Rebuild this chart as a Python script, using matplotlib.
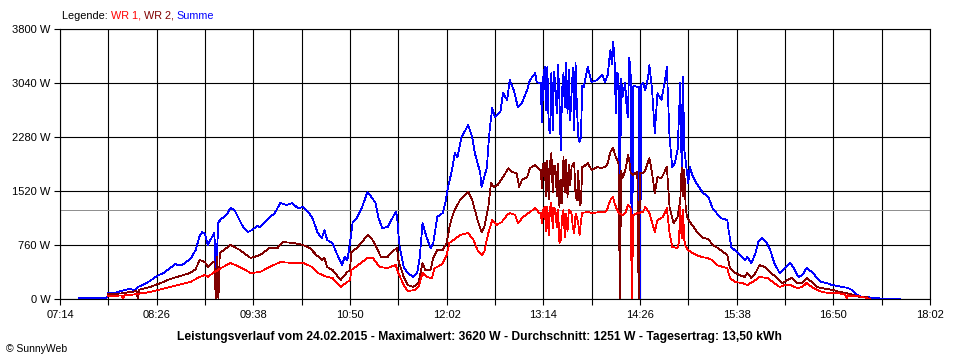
import numpy as np
import matplotlib.pyplot as plt
from matplotlib.offsetbox import TextArea, HPacker, AnnotationBbox

plt.rcParams['font.family'] = ['Liberation Sans', 'DejaVu Sans']

# per-minute log blocks shared by all three series
block_a = ["13:12", "13:13", "13:14", "13:15", "13:16", "13:17", "13:18", "13:19", "13:20", "13:21",
           "13:22", "13:23", "13:24", "13:25", "13:26", "13:27", "13:28", "13:29", "13:30", "13:31",
           "13:32", "13:33", "13:34", "13:35", "13:36", "13:37", "13:38", "13:39", "13:40", "13:41",
           "13:42", "13:43", "13:44"]
block_b = ["14:00", "14:01", "14:02", "14:03", "14:04", "14:05", "14:06", "14:07", "14:08", "14:09",
           "14:10", "14:11", "14:12", "14:13", "14:14", "14:15", "14:16", "14:17", "14:18", "14:19",
           "14:20", "14:21", "14:22", "14:23", "14:24", "14:25", "14:26", "14:27", "14:28", "14:29",
           "14:30"]

# Summe
summe_t1 = ["07:28", "07:36", "07:44", "07:49", "07:50", "07:55", "07:57", "08:02", "08:06", "08:10",
            "08:12", "08:17", "08:21", "08:26", "08:31", "08:36", "08:40", "08:42", "08:45", "08:49",
            "08:52", "08:55", "08:58", "09:00", "09:02", "09:04", "09:06", "09:09", "09:10", "09:11",
            "09:12", "09:15", "09:18", "09:21", "09:24", "09:27", "09:30", "09:34", "09:37", "09:41",
            "09:43", "09:48", "09:54", "09:58", "10:03", "10:07", "10:11", "10:15", "10:19", "10:22",
            "10:26", "10:29", "10:31", "10:33", "10:37", "10:40", "10:44", "10:46", "10:48", "10:49",
            "10:51", "10:52", "10:55", "10:59", "11:03", "11:05", "11:09", "11:11", "11:14", "11:18",
            "11:20", "11:24", "11:25", "11:26", "11:27", "11:30", "11:33", "11:35", "11:37", "11:40",
            "11:42", "11:44", "11:47", "11:50", "11:52", "11:55", "11:59", "12:01", "12:03", "12:06",
            "12:08", "12:10", "12:13", "12:16", "12:18", "12:21", "12:23", "12:25", "12:27", "12:28",
            "12:30", "12:32", "12:33", "12:34", "12:36", "12:38", "12:42", "12:44", "12:47", "12:49",
            "12:52", "12:55", "12:58", "13:02", "13:04", "13:08", "13:09", "13:11"]
summe_v1 = [10, 10, 15, 20, 85, 85, 98, 126, 140, 126,
            169, 211, 253, 323, 366, 436, 492, 478, 478, 535,
            591, 689, 886, 942, 914, 760, 830, 928, 408, 689,
            1083, 1140, 1182, 1280, 1252, 1140, 1027, 942, 971, 1027,
            1013, 1112, 1210, 1351, 1323, 1351, 1280, 1294, 1224, 1140,
            928, 858, 971, 830, 788, 647, 478, 591, 549, 661,
            928, 1083, 1140, 1294, 1505, 1463, 1351, 1154, 999, 1013,
            1083, 1224, 1182, 928, 732, 450, 366, 338, 310, 366,
            591, 1069, 872, 717, 788, 1154, 1210, 1351, 1576, 1815,
            2054, 1998, 2279, 2378, 2448, 2279, 2054, 1914, 1773, 1576,
            1716, 1857, 2139, 2378, 2687, 2561, 2631, 2898, 2800, 3081,
            2941, 2701, 2758, 2941, 3081, 3180, 3053, 3039]
summe_va = [3039, 2490, 3123, 3264, 2659, 3264, 2406, 2335, 3180, 2380,
            3200, 3000, 2617, 3300, 2800, 2096, 2941, 3180, 2700, 3320,
            2617, 3222, 2518, 2898, 3250, 2378, 3320, 2700, 2300, 2209,
            2279, 3000, 2983]
summe_t2 = ["13:47", "13:50", "13:54", "13:58"]
summe_v2 = [3264, 3053, 3081, 3152]
summe_vb = [3053, 3109, 3150, 3350, 3503, 3300, 3620, 3400, 2617, 3180,
            3150, 1250, 3100, 2842, 2950, 3039, 2700, 2561, 3391, 3200,
            0, 2983, 3000, 2990, 2983, 2990, 0, 3020, 3039, 3000,
            2941]
summe_t3 = ["14:32", "14:33", "14:35", "14:37", "14:39", "14:42", "14:45", "14:46", "14:48", "14:50",
            "14:52", "14:54", "14:55", "14:56", "14:57", "14:58", "14:59", "15:02", "15:03", "15:05",
            "15:08", "15:13", "15:17", "15:20", "15:26", "15:31", "15:32", "15:34", "15:38", "15:42",
            "15:44", "15:46", "15:49", "15:52", "15:54", "15:57", "16:00", "16:03", "16:06", "16:10",
            "16:14", "16:18", "16:20", "16:24", "16:27", "16:30", "16:34", "16:38", "16:41", "16:45",
            "16:49", "16:53", "16:57", "17:01", "17:04", "17:08", "17:11", "17:15", "17:20", "17:27",
            "17:34", "17:40"]
summe_v3 = [3123, 3292, 2941, 2335, 2898, 2800, 3123, 3264, 2279, 1857,
            1914, 2100, 2561, 3039, 1857, 3123, 2096, 1632, 1857, 1745,
            1632, 1491, 1435, 1280, 1140, 1112, 971, 732, 661, 591,
            549, 591, 507, 647, 802, 858, 802, 689, 507, 366,
            436, 507, 450, 310, 338, 436, 380, 295, 239, 225,
            197, 183, 169, 155, 126, 56, 28, 28, 14, 5,
            5, 0]

# WR 2
wr2_t1 = ["07:50", "07:55", "08:00", "08:06", "08:11", "08:12", "08:13", "08:21", "08:29", "08:36",
          "08:43", "08:51", "08:55", "08:58", "09:02", "09:04", "09:06", "09:08", "09:09", "09:10",
          "09:11", "09:12", "09:13", "09:14", "09:21", "09:28", "09:36", "09:43", "09:50", "09:56",
          "10:00", "10:08", "10:15", "10:20", "10:25", "10:29", "10:31", "10:33", "10:37", "10:43",
          "10:48", "10:50", "10:51", "10:55", "10:59", "11:03", "11:06", "11:10", "11:13", "11:18",
          "11:21", "11:25", "11:26", "11:30", "11:33", "11:37", "11:41", "11:44", "11:46", "11:50",
          "11:52", "11:55", "11:59", "12:02", "12:04", "12:06", "12:08", "12:12", "12:14", "12:18",
          "12:21", "12:23", "12:25", "12:28", "12:30", "12:33", "12:35", "12:37", "12:40", "12:44",
          "12:48", "12:51", "12:54", "12:56", "12:58", "13:02", "13:04", "13:08", "13:10"]
wr2_v1 = [70, 70, 80, 98, 110, 0, 130, 169, 225, 281,
          320, 366, 420, 549, 520, 450, 480, 520, 520, 0,
          600, 0, 640, 661, 760, 689, 577, 619, 717, 717,
          802, 788, 760, 717, 619, 549, 577, 450, 408, 267,
          380, 408, 661, 717, 802, 900, 858, 717, 591, 591,
          661, 717, 549, 310, 197, 169, 225, 507, 408, 408,
          577, 689, 689, 788, 999, 1154, 1252, 1393, 1435, 1505,
          1393, 1252, 1112, 942, 1013, 1294, 1632, 1576, 1604, 1716,
          1843, 1787, 1773, 1576, 1674, 1716, 1843, 1885, 1843]
wr2_va = [1815, 1562, 1900, 1914, 1450, 1950, 1400, 1914, 2054, 1500,
          1880, 1857, 1450, 1900, 1294, 1674, 1350, 1998, 1500, 1956,
          1435, 1885, 1600, 1857, 1900, 1914, 1450, 1393, 1800, 1320,
          1351, 1857, 1860]
wr2_t2 = ["13:47", "13:50", "13:54", "13:57"]
wr2_v2 = [1914, 1815, 1857, 1843]
wr2_vb = [1860, 1880, 1914, 2000, 2068, 2100, 2124, 2050, 1998, 1956,
          1900, 0, 1800, 1702, 1750, 1815, 1900, 2026, 1950, 1773,
          1760, 1745, 1760, 1780, 1787, 0, 1780, 1775, 1773, 1790,
          1815]
wr2_t3 = ["14:33", "14:35", "14:37", "14:39", "14:42", "14:46", "14:48", "14:51", "14:54", "14:56",
          "14:57", "14:58", "14:59", "15:00", "15:01", "15:03", "15:05", "15:09", "15:13", "15:17",
          "15:20", "15:24", "15:28", "15:31", "15:33", "15:37", "15:40", "15:44", "15:46", "15:49",
          "15:52", "15:55", "15:59", "16:03", "16:08", "16:12", "16:16", "16:19", "16:23", "16:27",
          "16:30", "16:34", "16:38", "16:41", "16:45", "16:50", "16:55", "17:00", "17:05", "17:10",
          "17:15", "17:17"]
wr2_v3 = [1984, 1773, 1491, 1716, 1702, 1857, 1294, 1069, 1154, 1393,
          1850, 1450, 1815, 1300, 1154, 1083, 1041, 928, 858, 844,
          760, 717, 661, 619, 436, 366, 338, 310, 366, 295,
          366, 478, 450, 380, 295, 225, 267, 295, 225, 225,
          295, 239, 169, 155, 141, 126, 98, 84, 56, 28,
          28, 0]

# WR 1
wr1_t1 = ["07:50", "07:55", "08:00", "08:01", "08:02", "08:06", "08:21", "08:36", "08:51", "08:58",
          "09:02", "09:04", "09:08", "09:14", "09:21", "09:28", "09:36", "09:43", "09:50", "09:58",
          "10:08", "10:15", "10:22", "10:26", "10:33", "10:37", "10:43", "10:48", "10:50", "10:51",
          "10:56", "11:03", "11:07", "11:12", "11:18", "11:24", "11:26", "11:30", "11:33", "11:38",
          "11:41", "11:44", "11:47", "11:51", "11:53", "11:55", "11:59", "12:02", "12:04", "12:07",
          "12:12", "12:18", "12:22", "12:25", "12:28", "12:30", "12:33", "12:36", "12:39", "12:43",
          "12:47", "12:49", "12:53", "12:55", "12:59", "13:04", "13:08", "13:11"]
wr1_v1 = [42, 45, 50, 0, 55, 56, 98, 169, 239, 310,
          338, 310, 366, 436, 507, 450, 366, 380, 450, 520,
          507, 507, 450, 366, 310, 295, 169, 239, 267, 408,
          478, 577, 577, 450, 436, 478, 366, 197, 112, 126,
          169, 366, 310, 295, 436, 450, 500, 620, 788, 830,
          900, 928, 830, 689, 619, 661, 928, 1112, 1041, 1083,
          1182, 1210, 1182, 1069, 1154, 1224, 1280, 1210]
wr1_va = [1210, 1069, 1250, 1294, 950, 1300, 900, 1280, 1351, 1000,
          1280, 1250, 1013, 1250, 788, 830, 1150, 1252, 872, 1200,
          950, 1252, 1230, 1210, 1000, 928, 1200, 1150, 1069, 900,
          1100, 1210, 1215]
wr1_t2 = ["13:47", "13:51", "13:56"]
wr1_v2 = [1224, 1210, 1224]
wr1_vb = [1224, 1240, 1280, 1350, 1393, 1420, 1435, 1350, 1300, 1252,
          1220, 1200, 1190, 1182, 1195, 1210, 1260, 1323, 1300, 1290,
          0, 1182, 1190, 1200, 1210, 1210, 1215, 1224, 1220, 1250,
          1294]
wr1_t3 = ["14:33", "14:37", "14:39", "14:43", "14:46", "14:48", "14:50", "14:54", "14:55", "14:56",
          "14:57", "14:58", "14:59", "15:00", "15:02", "15:05", "15:08", "15:12", "15:16", "15:20",
          "15:23", "15:28", "15:31", "15:33", "15:37", "15:42", "15:46", "15:48", "15:50", "15:55",
          "16:01", "16:05", "16:10", "16:14", "16:18", "16:23", "16:27", "16:30", "16:34", "16:38",
          "16:42", "16:47", "16:53", "16:57", "16:59", "17:00", "17:01", "17:02", "17:08", "17:15",
          "17:17"]
wr1_v3 = [1210, 942, 1112, 1154, 1280, 928, 732, 717, 802, 1294,
          850, 1250, 830, 732, 689, 647, 619, 591, 577, 549,
          478, 450, 436, 295, 239, 225, 197, 225, 239, 310,
          295, 239, 169, 197, 197, 155, 169, 225, 169, 126,
          98, 84, 84, 70, 60, 0, 60, 42, 42, 14,
          0]

average = 1251
y_ticks = [0, 760, 1520, 2280, 3040, 3800]


def to_min(ts):
    return np.array([int(s[:2]) * 60 + int(s[3:]) for s in ts])


def hhmm(m):
    return "%02d:%02d" % (m // 60, m % 60)


summe_t = to_min(summe_t1 + block_a + summe_t2 + block_b + summe_t3)
summe = summe_v1 + summe_va + summe_v2 + summe_vb + summe_v3
wr2_t = to_min(wr2_t1 + block_a + wr2_t2 + block_b + wr2_t3)
wr2 = wr2_v1 + wr2_va + wr2_v2 + wr2_vb + wr2_v3
wr1_t = to_min(wr1_t1 + block_a + wr1_t2 + block_b + wr1_t3)
wr1 = wr1_v1 + wr1_va + wr1_v2 + wr1_vb + wr1_v3

fig = plt.figure(figsize=(9.6, 3.6), dpi=100)
ax = fig.add_axes([60 / 960, 61 / 360, 870 / 960, 270 / 360])

ax.plot(summe_t, summe, color='#0000ff', lw=0.55, zorder=3, antialiased=False)
ax.plot(wr2_t, wr2, color='#800000', lw=0.55, zorder=4, antialiased=False)
ax.plot(wr1_t, wr1, color='#ff0000', lw=0.55, zorder=5, antialiased=False)
ax.axhline(average, color='#909090', lw=0.55, zorder=2, antialiased=False)

start, end = to_min(["07:14", "18:02"])
ticks = np.arange(start, end + 1, 36)
ax.set_xlim(start, end)
ax.set_ylim(0, 3800)
ax.set_xticks(ticks)
ax.set_xticklabels([hhmm(t) if i % 2 == 0 else "" for i, t in enumerate(ticks)])
ax.set_yticks(y_ticks)
ax.set_yticklabels(["%d W" % v for v in y_ticks])
ax.tick_params(axis='both', direction='out', length=4, width=0.8, labelsize=8, color='black')
ax.tick_params(axis='x', pad=4)
ax.tick_params(axis='y', pad=3)
ax.grid(True, color='black', lw=0.8, zorder=1)
ax.set_axisbelow(True)
for s in ax.spines.values():
    s.set_color('black')
    s.set_linewidth(0.8)

# legend line at the top
parts = [("Legende: ", "black"), ("WR 1, ", "#ff0000"), ("WR 2, ", "#800000"), ("Summe", "#0000ff")]
boxes = [TextArea(txt, textprops=dict(color=c, fontsize=7.8)) for txt, c in parts]
pack = HPacker(children=boxes, align="baseline", pad=0, sep=0)
ab = AnnotationBbox(pack, (62 / 960, 1 - 16 / 360), xycoords='figure fraction',
                    box_alignment=(0, 0.5), frameon=False, pad=0)
fig.add_artist(ab)

fig.text(479 / 960, 1 - 337 / 360,
         "Leistungsverlauf vom 24.02.2015 - Maximalwert: 3620 W - Durchschnitt: 1251 W - Tagesertrag: 13,50 kWh",
         ha='center', va='center', fontsize=8.7, fontweight='bold')
fig.text(6 / 960, 1 - 349 / 360, "\u00a9 SunnyWeb", ha='left', va='center', fontsize=7.5)

fig.savefig("out.png", dpi=100)
